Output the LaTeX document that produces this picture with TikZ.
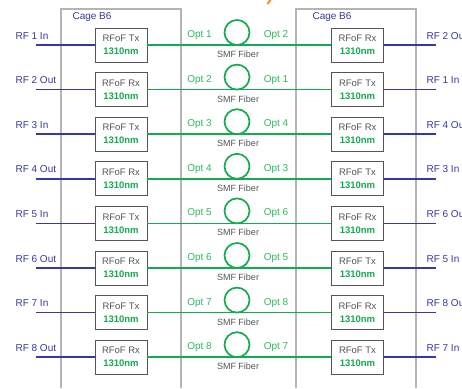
\documentclass[tikz,border=0pt]{standalone}
\usepackage{fontspec}
\setmainfont{Liberation Sans}
\definecolor{rfblue}{RGB}{55,55,165}
\definecolor{fibergreen}{RGB}{20,170,80}
\definecolor{optgreen}{RGB}{45,185,95}
\definecolor{cagegray}{RGB}{180,180,180}
\definecolor{boxgray}{RGB}{85,85,85}
\definecolor{titleorange}{RGB}{240,145,25}
\begin{document}
\begin{tikzpicture}[x=1pt, y=-1pt,
  rfof/.style={rectangle, draw=boxgray, line width=0.9pt, fill=white,
               minimum width=52pt, minimum height=34pt, inner sep=0pt,
               align=center, text=boxgray, font=\fontsize{9.5}{13}\selectfont},
  cage/.style={cagegray, line width=1.1pt},
  cagelabel/.style={anchor=base west, text=rfblue, font=\fontsize{10}{12}\selectfont},
  rflabel/.style={anchor=base west, text=rfblue, font=\fontsize{10}{12}\selectfont},
  optlabel/.style={anchor=base, text=optgreen, font=\fontsize{10}{12}\selectfont},
  fiberlabel/.style={anchor=base, text=boxgray, font=\fontsize{9}{11}\selectfont},
  fiberloop/.style={circle, draw=fibergreen, line width=1.7pt, minimum size=25pt,
                    inner sep=0pt},
  rfline/.style={rfblue, line width=1.5pt},
  fiber/.style={fibergreen, line width=1.5pt}
]
  \useasboundingbox (0,0) rectangle (462,388);

  % cages
  \draw[cage] (61,388) |- (181,9) -- (181,388);
  \draw[cage] (296,388) |- (416,9) -- (416,388);
  \node[cagelabel] (lcage) at (69,19.5) {Cage B6};
  \node[cagelabel] (rcage) at (309,19.5) {Cage B6};

  % cut-off title
  \draw[titleorange, line width=2pt] (271,-1) -- (267.5,4);

  % links
  \foreach \i/\lrf/\ltype/\lopt/\ropt/\rtype/\rrf in {
      1/RF 1 In/Tx/1/2/Rx/RF 2 Out,
      2/RF 2 Out/Rx/2/1/Tx/RF 1 In,
      3/RF 3 In/Tx/3/4/Rx/RF 4 Out,
      4/RF 4 Out/Rx/4/3/Tx/RF 3 In,
      5/RF 5 In/Tx/5/6/Rx/RF 6 Out,
      6/RF 6 Out/Rx/6/5/Tx/RF 5 In,
      7/RF 7 In/Tx/7/8/Rx/RF 8 Out,
      8/RF 8 Out/Rx/8/7/Tx/RF 7 In} {
    \pgfmathsetmacro{\y}{45+44.6*(\i-1)}
    \node[rfof] (lbox\i) at (121,\y)
      {RFoF \ltype\\{\bfseries\color{fibergreen}1310nm}};
    \node[rfof] (rbox\i) at (357.5,\y)
      {RFoF \rtype\\{\bfseries\color{fibergreen}1310nm}};
    \coordinate (lend\i) at (36,\y);
    \coordinate (rend\i) at (436,\y);
    \node[rflabel] (llab\i) at (12,\y-6) {\lrf};
    \node[rflabel] (rlab\i) at (423,\y-6) {\rrf};
    \draw[rfline] (lend\i) -- (lbox\i.west);
    \draw[rfline] (rbox\i.east) -- (rend\i);
    \node[fiberloop] (loop\i) at (237,\y-12.5) {};
    \draw[fiber] (lbox\i.east) -- (rbox\i.west);
    \node[optlabel] (lopt\i) at (199.5,\y-7.5) {Opt \lopt};
    \node[optlabel] (ropt\i) at (276,\y-7.5) {Opt \ropt};
    \node[fiberlabel] (smf\i) at (238,\y+12.5) {SMF Fiber};
  }
\end{tikzpicture}
\end{document}
